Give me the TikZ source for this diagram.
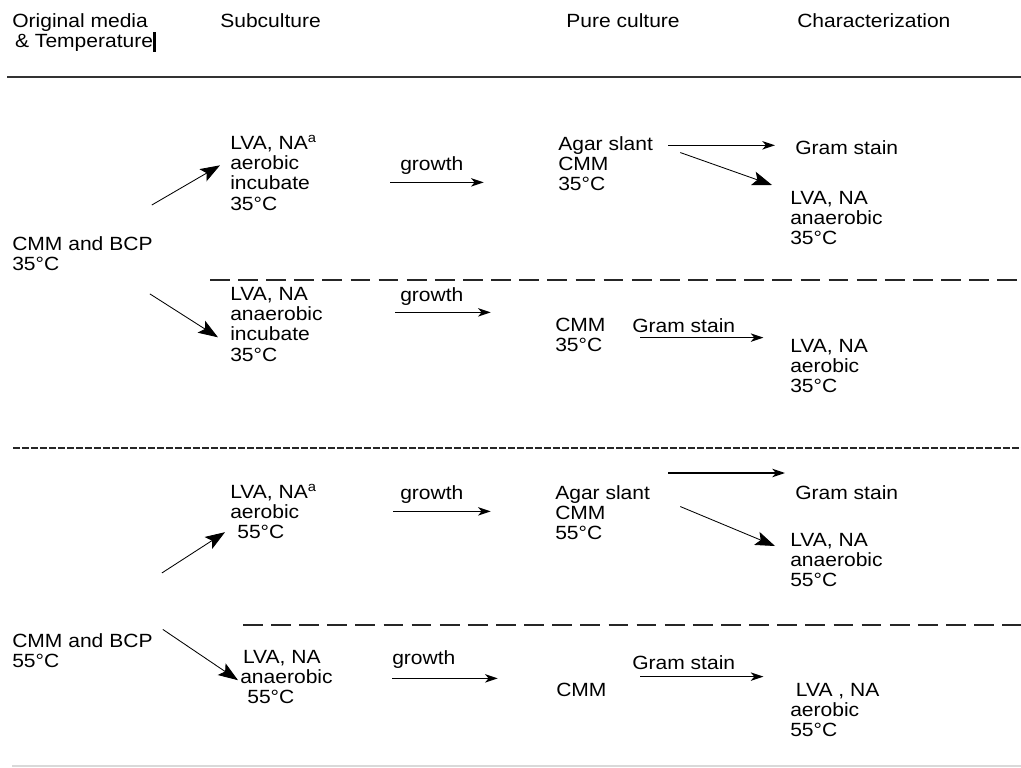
\documentclass[tikz,border=0pt]{standalone}
\usepackage{fontspec}
\setmainfont{Liberation Sans}[FakeStretch=1.1]
\usetikzlibrary{arrows.meta,calc}

\begin{document}
\begin{tikzpicture}[x=0.025cm, y=-0.025cm,
    txt/.style = {anchor=north west, align=left, inner sep=0pt,
                font=\fontsize{13.6}{14.4}\selectfont},
    harr/.style = {-{Stealth[length=9pt,width=6pt,inset=2.5pt]}, line width=1pt},
    diag/.style = {-{Stealth[length=14pt,width=10pt,inset=3pt]}, line width=0.6pt},
    longdash/.style = {line width=1.3pt, dash pattern=on 14pt off 6pt, color=black!85},
    shortdash/.style = {line width=1.3pt, dash pattern=on 4.8pt off 1.6pt, color=black!85}
                    ]
    \def\xs{230}  % subculture column
    \def\xg{400}  % growth labels
    \def\xp{555}  % pure culture column
    \def\xc{790}  % characterization column
    \useasboundingbox (0,0) rectangle (1021,768);
    \fill[white] (0,0) rectangle (1021,768);
    % headings
    \node[txt] at (12,13) (hmed) {Original media\\\hspace*{2pt}\& Temperature\rule[-3pt]{2.2pt}{14pt}};
    \node[txt] at (220,13) (hsub) {Subculture};
    \node[txt] at (566,13) (hpure) {Pure culture};
    \node[txt] at (797,13) (hchar) {Characterization};
    \draw[line width=1.5pt, black!80] (7,77) -- (1021,77);
    % 35 C
    \node[txt] at (12,236) (src1) {CMM and BCP\\35°C};
    \node[txt] at (\xs,136) (subA) {LVA, NA\smash{\textsuperscript{a}}\\aerobic\\incubate\\35°C};
    \node[txt] at (\xg,156) (gA) {growth};
    \node[txt] at (558,136) (pureA) {Agar slant\\CMM\\35°C};
    \node[txt] at (795,140) (gramA) {Gram stain};
    \node[txt] at (\xc,191) (charA) {LVA, NA\\anaerobic\\35°C};
    \node[txt] at (\xs,287) (subB) {LVA, NA\\anaerobic\\incubate\\35°C};
    \node[txt] at (\xg,287) (gB) {growth};
    \node[txt] at (\xp,318) (pureB) {CMM\\35°C};
    \node[txt] at (632,318) (gsB) {Gram stain};
    \node[txt] at (\xc,339) (charB) {LVA, NA\\aerobic\\35°C};
    \draw[diag] ([shift={(-1,-31)}]src1.north east) -- ([shift={(-10,-8)}]subA.west);
    \draw[diag] ([shift={(-3,23)}]src1.south east) -- ([shift={(-12,13)}]subB.west);
    \draw[harr] ([shift={(-10,8)}]gA.south west) -- ([shift={(20,8)}]gA.south east);
    \draw[harr] ($(gramA.west -| pureA.east)+(15,-2)$) -- ($(gramA.west)+(-20,-2)$);
    \draw[diag] ([shift={(27,-11)}]pureA.east) -- ([shift={(-18,-6)}]charA.north west);
    \draw[harr] ([shift={(-5,7)}]gB.south west) -- ([shift={(27,7)}]gB.south east);
    \draw[harr] ([shift={(8,5)}]gsB.south west) -- ([shift={(28,5)}]gsB.south east);
    \draw[longdash] (210,280) -- (1021,280);
    \draw[shortdash] (13,448) -- (1021,448);
    % 55 C
    \node[txt] at (12,633) (src2) {CMM and BCP\\55°C};
    \node[txt] at (\xs,485) (subC) {LVA, NA\smash{\textsuperscript{a}}\\aerobic\\\hspace*{5pt}55°C};
    \node[txt] at (\xg,485) (gC) {growth};
    \node[txt] at (\xp,485) (pureC) {Agar slant\\CMM\\55°C};
    \node[txt] at (795,485) (gramC) {Gram stain};
    \node[txt] at (\xc,533) (charC) {LVA, NA\\anaerobic\\55°C};
    \node[txt] at (240,650) (subD) {\hspace*{2pt}LVA, NA\\anaerobic\\\hspace*{5pt}55°C};
    \node[txt] at (392,650) (gD) {growth};
    \node[txt] at (556,683) (pureD) {CMM};
    \node[txt] at (632,655) (gsD) {Gram stain};
    \node[txt] at (\xc,683) (charD) {\hspace*{4pt}LVA , NA\\aerobic\\55°C};
    \draw[diag] ([shift={(9,-60)}]src2.north east) -- ([shift={(-5,20)}]subC.west);
    \draw[diag] ([shift={(10,-21)}]src2.east) -- ([shift={(-2,3)}]subD.west);
    \draw[harr] ([shift={(-7,8)}]gC.south west) -- ([shift={(27,8)}]gC.south east);
    \draw[harr] ([shift={(0,10)}]gD.south west) -- ([shift={(42,10)}]gD.south east);
    \draw[harr] ([shift={(18,-12)}]pureC.north east) -- ([shift={(-10,-12)}]gramC.north west);
    \draw[diag] ([shift={(30,-6)}]pureC.east) -- ([shift={(-15,13)}]charC.north west);
    \draw[harr] ([shift={(8,7)}]gsD.south west) -- ([shift={(28,7)}]gsD.south east);
    \draw[longdash] (243,625) -- (1021,625);
    \draw[line width=1.2pt, black!15] (12,766) -- (1021,766);
\end{tikzpicture}
\end{document}
